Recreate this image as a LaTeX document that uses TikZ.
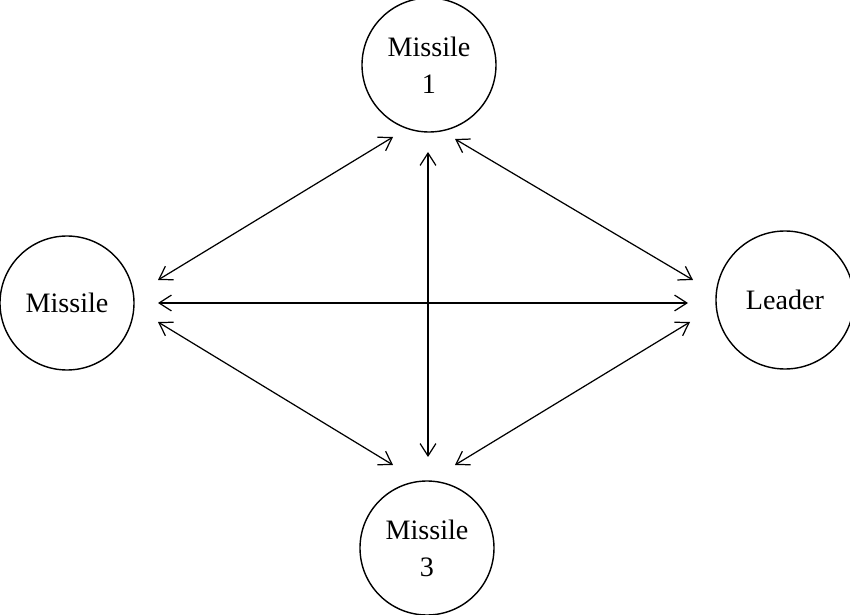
\documentclass[tikz,border=0pt]{standalone}
\usepackage{fontspec}
\setmainfont{Liberation Serif}
\usetikzlibrary{arrows.meta}
\begin{document}
\begin{tikzpicture}[x=0.02cm,y=-0.02cm,
  ball/.style={circle,draw,line width=0.8pt,minimum size=134*0.02cm,inner sep=0pt,align=center,font=\fontsize{16}{21}\selectfont},
  link/.style={<->,>={Straight Barb[length=7pt,width=9pt]},line width=0.7pt}]
\useasboundingbox (0,0) rectangle (850,615);
\node[ball] (m1) at (429,65) {Missile\\1};
\node[ball] (ml) at (67,303) {Missile};
\node[ball,minimum size=138*0.02cm] (ld) at (785,300) {Leader};
\node[ball] (m3) at (427,548) {Missile\\3};
\draw[link] ([shift={(91,-23)}]ml.center) -- ([shift={(-36,72)}]m1.center);
\draw[link] ([shift={(91,0)}]ml.center) -- ([shift={(-97,3)}]ld.center);
\draw[link] ([shift={(-1,87)}]m1.center) -- ([shift={(1,-91)}]m3.center);
\draw[link] ([shift={(26,74)}]m1.center) -- ([shift={(-92,-20)}]ld.center);
\draw[link] ([shift={(91,19)}]ml.center) -- ([shift={(-34,-83)}]m3.center);
\draw[link] ([shift={(28,-83)}]m3.center) -- ([shift={(-95,22)}]ld.center);
\end{tikzpicture}
\end{document}
